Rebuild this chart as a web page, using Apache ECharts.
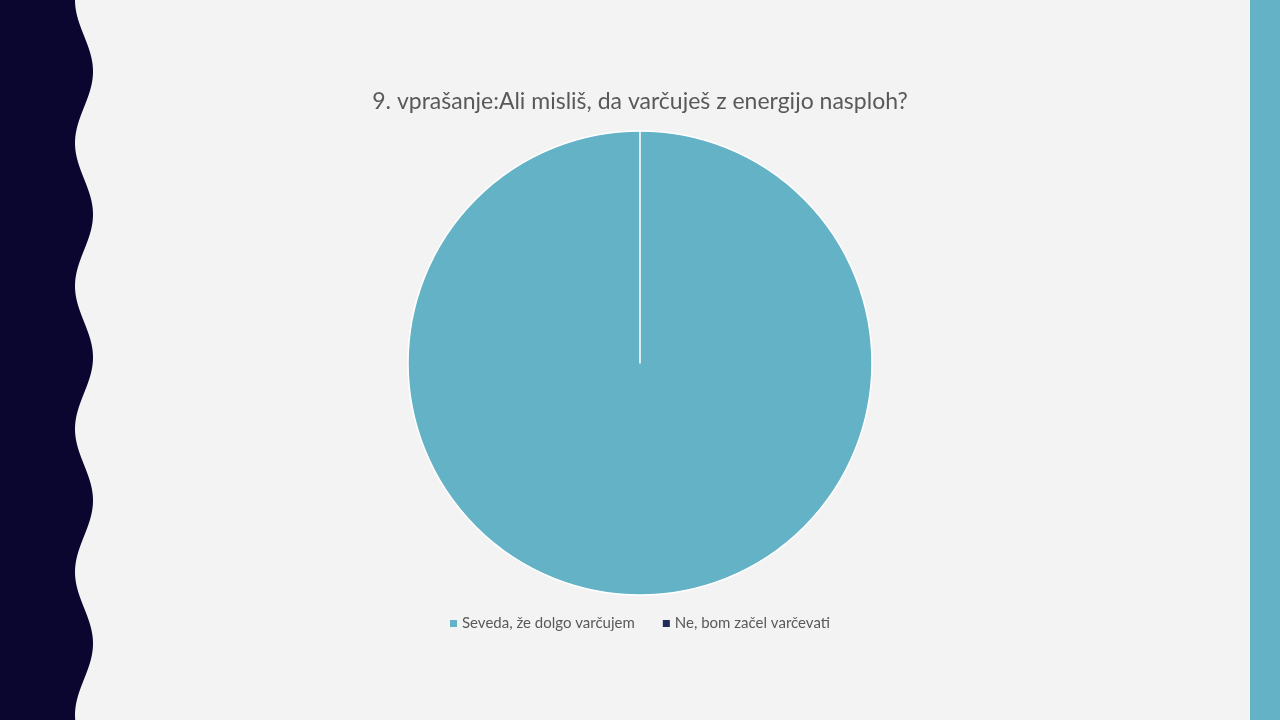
<!DOCTYPE html>
<html><head><meta charset="utf-8">
<script src="https://cdn.jsdelivr.net/npm/echarts@6/dist/echarts.min.js"></script>
<style>html,body{margin:0;padding:0;background:#f3f3f3}#c{width:1280px;height:720px}</style>
</head><body><div id="c"></div>
<script>
const title = '9. vprašanje:Ali misliš, da varčuješ z energijo nasploh?';
const categories = ['Seveda, že dolgo varčujem', 'Ne, bom začel varčevati'];
const values = [100, 0];
const colors = ['#63b2c6', '#1f2c5a'];

const chart = echarts.init(document.getElementById('c'), null, {renderer: 'canvas'});

// decorative wavy left band
const wavePts = [[0, 0]];
for (let y = 0; y <= 720; y += 2) {
  wavePts.push([84 - 9 * Math.cos(2 * Math.PI * y / 143), y]);
}
wavePts.push([0, 720]);

chart.setOption({
  backgroundColor: '#f3f3f3',
  animation: false,
  title: {
    text: title,
    left: 'center',
    top: 85,
    textStyle: {fontFamily: 'Lato', fontSize: 23, fontWeight: 'normal', color: '#595959'}
  },
  legend: {
    bottom: 84,
    left: 'center',
    itemWidth: 7,
    itemHeight: 7,
    itemGap: 28,
    icon: 'rect',
    itemStyle: {borderWidth: 0},
    textStyle: {fontFamily: 'Lato', fontSize: 15, color: '#595959'},
    data: categories
  },
  graphic: [
    {type: 'polygon', shape: {points: wavePts}, style: {fill: '#0a0630'}, silent: true},
    {type: 'rect', shape: {x: 1250, y: 0, width: 30, height: 720}, style: {fill: '#63b2c6'}, silent: true}
  ],
  series: [{
    type: 'pie',
    center: [640, 363],
    radius: [0, 232],
    startAngle: 90,
    clockwise: true,
    label: {show: false},
    labelLine: {show: false},
    emphasis: {disabled: true},
    itemStyle: {borderColor: '#ffffff', borderWidth: 1.5},
    data: categories.map((n, i) => ({name: n, value: values[i], itemStyle: {color: colors[i]}}))
  }]
});
</script></body></html>
